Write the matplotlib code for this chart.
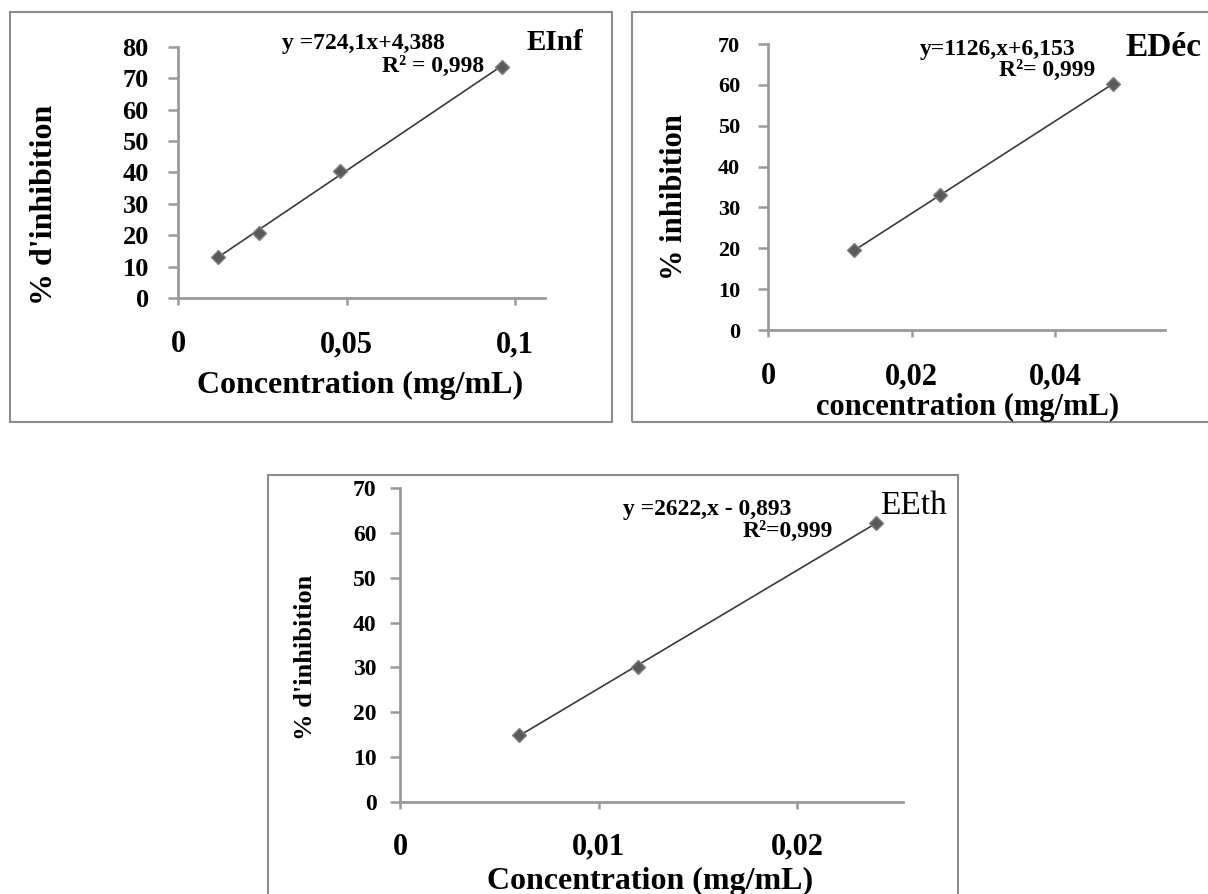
import matplotlib.pyplot as plt
import numpy as np
from matplotlib.patches import Rectangle

# donnees
conc_inf = [0.012, 0.024, 0.048, 0.096]
inh_inf = [13.2, 20.7, 40.5, 73.5]
conc_dec = [0.012, 0.024, 0.048]
inh_dec = [19.5, 33.0, 60.2]
conc_eth = [0.006, 0.012, 0.024]
inh_eth = [15.0, 30.2, 62.3]

ticks_x_inf = [0, 0.05, 0.1]
ticks_x_dec = [0, 0.02, 0.04]
ticks_x_eth = [0, 0.01, 0.02]
labels_x_inf = ["0", "0,05", "0,1"]
labels_x_dec = ["0", "0,02", "0,04"]
labels_x_eth = ["0", "0,01", "0,02"]

W, H = 1208, 894
plt.rcParams['font.family'] = ['Liberation Serif', 'DejaVu Serif']
plt.rcParams['font.weight'] = 'bold'
fig = plt.figure(figsize=(W / 100, H / 100), dpi=100)


def fx(x):
    return x / W


def fy(y):
    return 1 - y / H


def cadre(x0, y0, x1, y1):
    r = Rectangle((fx(x0), fy(y1)), fx(x1 - x0), (y1 - y0) / H, transform=fig.transFigure,
                  fill=False, edgecolor='#8c8c8c', lw=1.5, clip_on=False)
    fig.patches.append(r)


def panneau(l, r, b, t, xs, ys, xmax, ymax, xt, xl, ytfs, xpad, ypad):
    ax = fig.add_axes([fx(l), fy(b), fx(r - l), (b - t) / H])
    # droite de tendance
    a, c = np.polyfit(xs, ys, 1)
    xx = np.array([min(xs), max(xs)])
    ax.plot(xx, a * xx + c, color='#3a3a3a', lw=1.2, zorder=2)
    ax.plot(xs, ys, 'D', ms=7, color='#5a5a5a', mec='#808080', ls='none', zorder=3)
    ax.set_xlim(0, xmax)
    ax.set_ylim(0, ymax)
    ax.set_xticks(xt)
    ax.set_xticklabels(xl, fontsize=22, fontweight='bold')
    ax.set_yticks(range(0, ymax + 1, 10))
    ax.set_yticklabels([str(v) for v in range(0, ymax + 1, 10)], fontsize=ytfs, fontweight='bold')
    for s in ['top', 'right']:
        ax.spines[s].set_visible(False)
    for s in ['left', 'bottom']:
        ax.spines[s].set_color('#9a9a9a')
        ax.spines[s].set_linewidth(2)
    ax.tick_params(axis='x', length=5, width=1.8, color='#9a9a9a', pad=xpad)
    ax.tick_params(axis='y', length=7, width=1.8, color='#9a9a9a', pad=ypad)
    ax.patch.set_alpha(0)
    return ax


# cadres
cadre(10, 12, 612, 422)
cadre(632, 12, 1215, 422)
cadre(268, 475, 958, 900)

# EInf
panneau(178, 545, 298, 47, conc_inf, inh_inf, 0.1089, 80, ticks_x_inf, labels_x_inf, 19, 18, 14)
fig.text(fx(45), fy(205), "% d'inhibition", rotation=90, ha='center', va='center', fontsize=23, fontweight='bold')
fig.text(fx(360), fy(385), "Concentration (mg/mL)", ha='center', va='center', fontsize=23, fontweight='bold')
fig.text(fx(363), fy(44), "y =724,1x+4,388", ha='center', va='center', fontsize=17, fontweight='bold')
fig.text(fx(484), fy(66), "R² = 0,998", ha='right', va='center', fontsize=17, fontweight='bold')
fig.text(fx(527), fy(42), "EInf", ha='left', va='center', fontsize=21, fontweight='bold')

# EDéc
panneau(768, 1165, 330, 44, conc_dec, inh_dec, 0.0553, 70, ticks_x_dec, labels_x_dec, 16, 18, 13)
fig.text(fx(675), fy(197), "% inhibition", rotation=90, ha='center', va='center', fontsize=22, fontweight='bold')
fig.text(fx(968), fy(407), "concentration (mg/mL)", ha='center', va='center', fontsize=22, fontweight='bold')
fig.text(fx(998), fy(49), "y=1126,x+6,153", ha='center', va='center', fontsize=17, fontweight='bold')
fig.text(fx(1095), fy(70), "R²= 0,999", ha='right', va='center', fontsize=17, fontweight='bold')
fig.text(fx(1125), fy(47), "EDéc", ha='left', va='center', fontsize=24, fontweight='bold')

# EEth
panneau(400, 903, 802, 488, conc_eth, inh_eth, 0.02534, 70, ticks_x_eth, labels_x_eth, 17, 17, 10)
fig.text(fx(305), fy(657), "% d'inhibition", rotation=90, ha='center', va='center', fontsize=19, fontweight='bold')
fig.text(fx(650), fy(881), "Concentration (mg/mL)", ha='center', va='center', fontsize=23, fontweight='bold')
fig.text(fx(707), fy(509), "y =2622,x - 0,893", ha='center', va='center', fontsize=17, fontweight='bold')
fig.text(fx(833), fy(531), "R²=0,999", ha='right', va='center', fontsize=17, fontweight='bold')
fig.text(fx(880), fy(506), "EEth", ha='left', va='center', fontsize=24, fontweight='normal')

fig.savefig('out.png', dpi=100)
